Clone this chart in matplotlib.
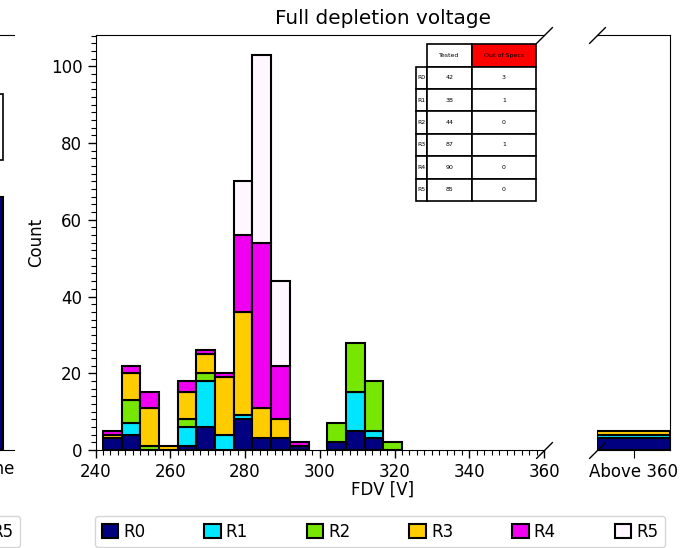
import numpy as np
import matplotlib
matplotlib.use("Agg")
import matplotlib.pyplot as plt
from matplotlib.patches import Patch, Rectangle
from matplotlib.ticker import MultipleLocator

plt.rcParams['font.size'] = 12

# histogram: bins of 5 V starting at 242 V
bin_start = 242
bin_width = 5
regions = ['R0', 'R1', 'R2', 'R3', 'R4', 'R5']
colors = ['#000080', '#00e6ff', '#77e600', '#ffcc00', '#f000f0', '#fff7ff']

counts_R0 = [3, 4, 0, 0, 1, 6, 0, 8, 3, 3, 1, 0, 2, 5, 3, 0]
counts_R1 = [0, 3, 0, 0, 5, 12, 4, 1, 0, 0, 0, 0, 0, 10, 2, 0]
counts_R2 = [0, 6, 1, 0, 2, 2, 0, 0, 0, 0, 0, 0, 5, 13, 13, 2]
counts_R3 = [1, 7, 10, 1, 7, 5, 15, 27, 8, 5, 0, 0, 0, 0, 0, 0]
counts_R4 = [1, 2, 4, 0, 3, 1, 1, 20, 43, 14, 1, 0, 0, 0, 0, 0]
counts_R5 = [0, 0, 0, 0, 0, 0, 0, 14, 49, 22, 0, 0, 0, 0, 0, 0]
counts = [counts_R0, counts_R1, counts_R2, counts_R3, counts_R4, counts_R5]

# overflow bin (above 360 V)
above_360 = [3, 1, 0, 1, 0, 0]

# summary table
tested = [42, 38, 44, 87, 90, 85]
out_of_specs = [3, 1, 0, 1, 0, 0]

# previous panel (cut off at the left edge of the picture)
prev_bar = 66

W, H = 684, 548


def px(x0, y0, x1, y1):
    return [x0 / W, 1 - y1 / H, (x1 - x0) / W, (y1 - y0) / H]


fig = plt.figure(figsize=(W / 100, H / 100), dpi=100)
ax = fig.add_axes(px(95.5, 35, 544, 450))
ax_hi = fig.add_axes(px(597, 35, 670, 450), sharey=ax)
ax_prev = fig.add_axes(px(-200, 35, 14, 450), sharey=ax)

edges = bin_start + bin_width * np.arange(len(counts_R0))
bottom = np.zeros(len(edges))
bottom_hi = 0
for name, col, vals, hi in zip(regions, colors, counts, above_360):
    vals = np.array(vals)
    nz = vals > 0
    ax.bar(edges[nz], vals[nz], width=bin_width, align='edge', bottom=bottom[nz],
           color=col, edgecolor='black', linewidth=1.5)
    if hi > 0:
        ax_hi.bar(0, hi, width=1, bottom=bottom_hi, color=col,
                  edgecolor='black', linewidth=1.5)
    bottom += vals
    bottom_hi += hi

ax.set_xlim(240, 360)
ax.xaxis.set_major_locator(MultipleLocator(20))
ax.xaxis.set_minor_locator(MultipleLocator(2))
ax.yaxis.set_major_locator(MultipleLocator(20))
ax.yaxis.set_minor_locator(MultipleLocator(2))
ax.tick_params(which='major', length=6, width=1)
ax.tick_params(which='minor', length=3.5, width=0.8)
ax.spines['right'].set_visible(False)
ax.set_ylabel('Count')

ax_hi.set_xlim(-0.5, 0.5)
ax_hi.set_xticks([0], ['Above 360'])
ax_hi.spines['left'].set_visible(False)
ax_hi.tick_params(axis='y', which='both', left=False, labelleft=False)
ax_hi.tick_params(axis='x', which='major', length=6)

# broken axis marks
kw = dict(marker=[(-1, -1), (1, 1)], markersize=12, linestyle='none',
          color='k', mec='k', mew=1, clip_on=False)
ax.plot([1, 1], [0, 1], transform=ax.transAxes, **kw)
ax_hi.plot([0, 0], [0, 1], transform=ax_hi.transAxes, **kw)

# table
cell_text = [[r, str(t), str(o)] for r, t, o in zip(regions, tested, out_of_specs)]
tbl = ax.table(cellText=cell_text, colLabels=['', 'Tested', 'Out of Specs'],
               colWidths=[11 / 120, 45 / 120, 64 / 120],
               bbox=[0.715, 0.600, 0.267, 0.378], cellLoc='center')
tbl.auto_set_font_size(False)
tbl.set_fontsize(4.5)
for (r, c), cell in tbl.get_celld().items():
    cell.set_linewidth(1.2)
    if c == 0 and r > 0:
        cell.get_text().set_ha('left')
tbl[0, 0].set_visible(False)
tbl[0, 2].set_facecolor('red')

# previous panel sliver
ax_prev.set_xlim(0, 1)
ax_prev.bar(0.775, prev_bar, width=0.35, color=colors[0], edgecolor='black', linewidth=1.5)
ax_prev.add_patch(Rectangle((0.70, 0.70), 0.2486, 0.157, transform=ax_prev.transAxes,
                            fill=False, lw=1.2))
ax_prev.set_xticks([0.9], ['None'])
ax_prev.spines['right'].set_visible(False)
ax_prev.tick_params(axis='y', left=False, labelleft=False)

# titles
cx = (95.5 + 670) / 2 / W
fig.text(cx, 1 - 18 / H, 'Full depletion voltage', ha='center', va='center', fontsize=14.4)
fig.text(cx, 1 - 490 / H, 'FDV [V]', ha='center', va='center', fontsize=12)

handles = [Patch(facecolor=c, edgecolor='black', linewidth=1.5) for c in colors]
leg_kw = dict(loc='upper left', ncol=6, mode='expand', fontsize=12,
              handlelength=1.0, handleheight=1.0, handletextpad=0.3,
              borderaxespad=0)
fig.legend(handles, regions, bbox_to_anchor=(95 / W, 1 - 516 / H, 570 / W, 0), **leg_kw)
fig.legend(handles, regions, bbox_to_anchor=((20 - 570) / W, 1 - 516 / H, 570 / W, 0), **leg_kw)

fig.savefig('out.png', dpi=100)
